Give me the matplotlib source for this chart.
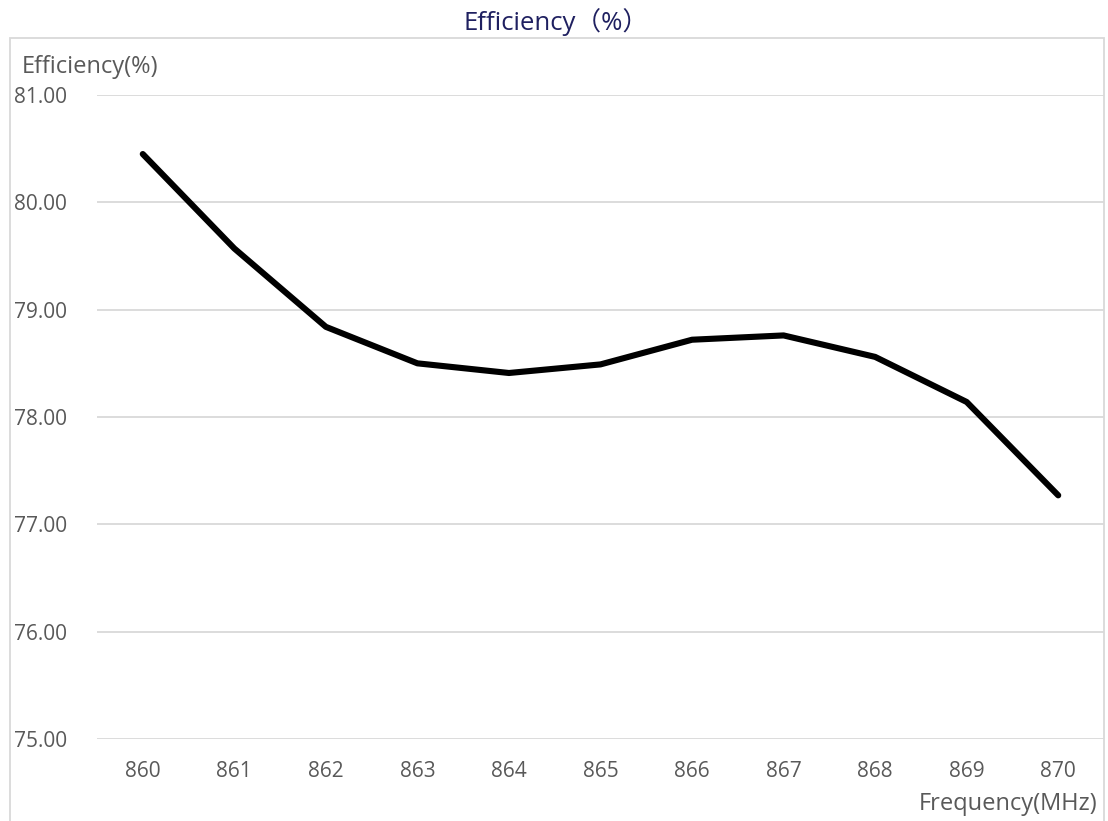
import matplotlib
matplotlib.use("Agg")
import matplotlib.pyplot as plt
from matplotlib.patches import Rectangle

plt.rcParams["font.family"] = ["Open Sans", "Noto Sans CJK SC", "DejaVu Sans"]

# data
freq_mhz = ["860", "861", "862", "863", "864", "865", "866", "867", "868", "869", "870"]
efficiency = [80.45, 79.57, 78.84, 78.50, 78.41, 78.49, 78.72, 78.76, 78.56, 78.14, 77.27]
y_ticks = [75, 76, 77, 78, 79, 80, 81]

W, H = 1108, 821
fig = plt.figure(figsize=(W / 100, H / 100), dpi=100)

# light chart frame like the spreadsheet chart area
fig.patches.append(Rectangle((10 / W, -0.05), (1104 - 10) / W, 1.05 - 38 / H,
                             transform=fig.transFigure, fill=False,
                             edgecolor="#D9D9D9", linewidth=1.3))

ax = fig.add_axes([97 / W, (H - 739) / H, (1104 - 97) / W, (739 - 95) / H])
x = list(range(len(freq_mhz)))
ax.plot(x, efficiency, color="black", linewidth=4.4, solid_capstyle="round",
        solid_joinstyle="round", zorder=3)

ax.set_xlim(-0.5, len(freq_mhz) - 0.5)
ax.set_ylim(75, 81)
ax.set_yticks(y_ticks)
ax.set_yticklabels([f"{v:.2f}" for v in y_ticks])
ax.set_xticks(x)
ax.set_xticklabels(freq_mhz)
ax.grid(axis="y", color="#D9D9D9", linewidth=1.3)
ax.set_axisbelow(True)
for s in ax.spines.values():
    s.set_visible(False)
ax.tick_params(axis="both", length=0, labelsize=15, labelcolor="#595959")
ax.tick_params(axis="y", pad=21.5)
ax.tick_params(axis="x", pad=15.5)

fig.text(556 / W, 1 - 30 / H, "Efficiency（%）", ha="center", va="baseline",
         fontsize=18.5, color="#1F2060")
fig.text(22 / W, 1 - 73 / H, "Efficiency(%)", ha="left", va="baseline",
         fontsize=17, color="#595959")
fig.text(1097 / W, 1 - 810 / H, "Frequency(MHz)", ha="right", va="baseline",
         fontsize=17, color="#595959")

fig.savefig("out.png", dpi=100)
